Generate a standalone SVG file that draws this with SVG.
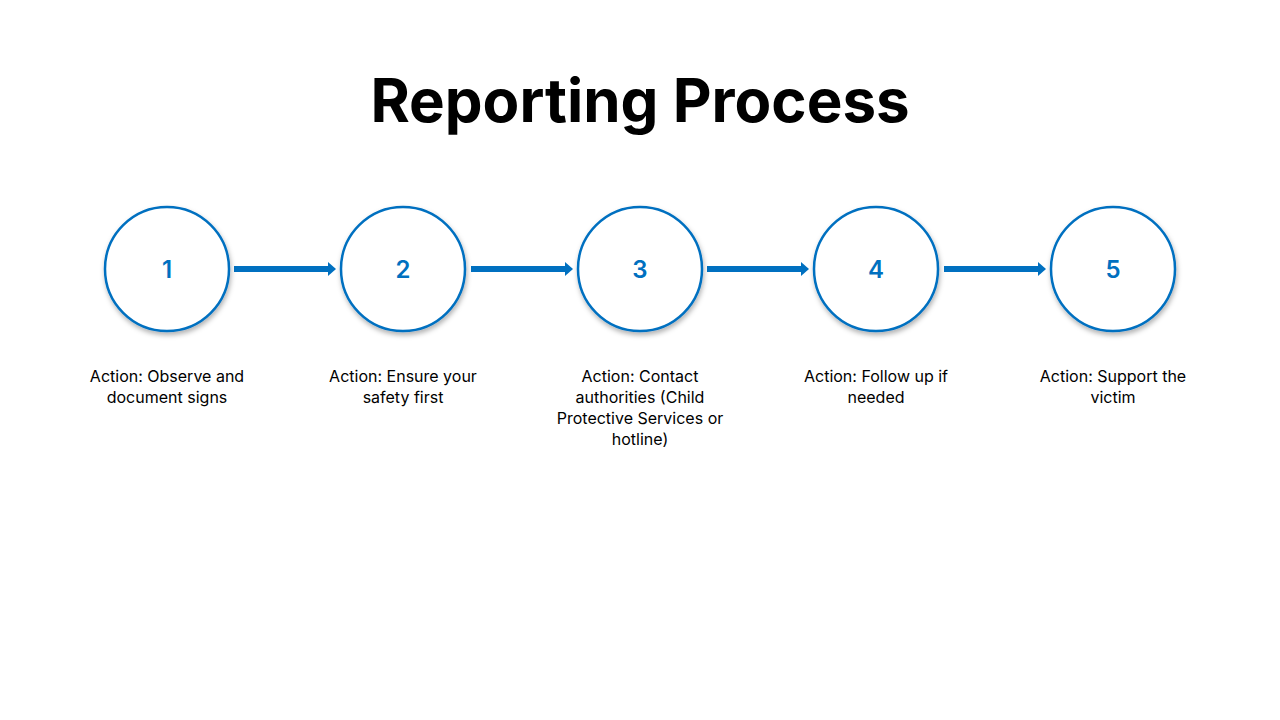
<svg xmlns="http://www.w3.org/2000/svg" width="1280" height="720" viewBox="0 0 1280 720">
<style>
.c{fill:#fff;stroke:#0070C0;stroke-width:2.5;filter:url(#sh)}
.n{font-family:"Inter","Liberation Sans",sans-serif;font-size:24px;font-weight:600;fill:#0070C0;text-anchor:middle}
.l{font-family:"Inter","Liberation Sans",sans-serif;font-size:16px;fill:#000;text-anchor:middle}
.a{stroke:#0070C0;stroke-width:6;marker-end:url(#ah)}
</style>
<defs>
<filter id="sh" x="-20%" y="-20%" width="140%" height="140%"><feDropShadow dx="1" dy="3" stdDeviation="2.5" flood-opacity="0.3"/></filter>
<marker id="ah" markerUnits="userSpaceOnUse" markerWidth="8" markerHeight="14" refX="0" refY="7" orient="auto"><path d="M0,0 L8,7 L0,14z" fill="#0070C0"/></marker>
</defs>
<rect width="1280" height="720" fill="#fff"/>
<text x="640" y="122" font-family="Inter,'Liberation Sans',sans-serif" font-size="60" font-weight="700" text-anchor="middle" fill="#000">Reporting Process</text>
<g id="connectors">
<line class="a" x1="234" y1="269" x2="328" y2="269"/>
<line class="a" x1="471" y1="269" x2="565" y2="269"/>
<line class="a" x1="707" y1="269" x2="801" y2="269"/>
<line class="a" x1="944" y1="269" x2="1038" y2="269"/>
</g>
<g id="n1"><circle class="c" cx="167" cy="269" r="62"/><text class="n" x="167" y="278">1</text>
<text class="l" x="167" y="382">Action: Observe and</text><text class="l" x="167" y="403">document signs</text></g>
<g id="n2"><circle class="c" cx="403" cy="269" r="62"/><text class="n" x="403" y="278">2</text>
<text class="l" x="403" y="382">Action: Ensure your</text><text class="l" x="403" y="403">safety first</text></g>
<g id="n3"><circle class="c" cx="640" cy="269" r="62"/><text class="n" x="640" y="278">3</text>
<text class="l" x="640" y="382">Action: Contact</text><text class="l" x="640" y="403">authorities (Child</text><text class="l" x="640" y="424">Protective Services or</text><text class="l" x="640" y="445">hotline)</text></g>
<g id="n4"><circle class="c" cx="876" cy="269" r="62"/><text class="n" x="876" y="278">4</text>
<text class="l" x="876" y="382">Action: Follow up if</text><text class="l" x="876" y="403">needed</text></g>
<g id="n5"><circle class="c" cx="1113" cy="269" r="62"/><text class="n" x="1113" y="278">5</text>
<text class="l" x="1113" y="382">Action: Support the</text><text class="l" x="1113" y="403">victim</text></g>
</svg>
